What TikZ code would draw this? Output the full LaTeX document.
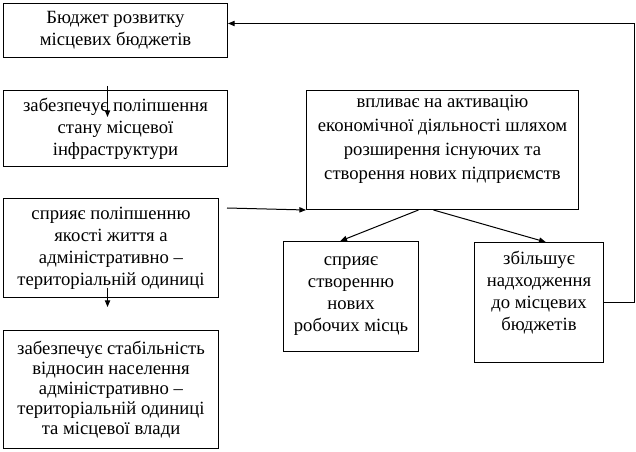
\documentclass[tikz,border=0pt]{standalone}
\usepackage{fontspec}
\setmainfont{Liberation Serif}
\usetikzlibrary{arrows.meta}
\begin{document}
\begin{tikzpicture}[x=0.75pt, y=-0.75pt,
    box/.style={draw, line width=0.75pt, anchor=north west, align=center, inner sep=2pt,
      font=\fontsize{14pt}{16.5pt}\selectfont},
    toptext/.style={align=center, anchor=north, inner sep=0pt,
      font=\fontsize{14pt}{16.5pt}\selectfont},
    arr/.style={line width=0.75pt, -{Triangle[length=5pt,width=4pt]}}]
  \useasboundingbox (0,0) rectangle (636,452);

  % left column
  \node[box, minimum width=168pt, minimum height=40.5pt] (budget) at (3,3)
    {Бюджет розвитку\\місцевих бюджетів};
  \node[box, minimum width=168pt, minimum height=57pt] (infra) at (3,90)
    {забезпечує поліпшення\\стану місцевої\\інфраструктури};
  \node[box, minimum width=161.25pt, minimum height=74.25pt] (life) at (3,198)
    {сприяє поліпшенню\\якості життя а\\адміністративно –\\територіальній одиниці};
  \node[box, minimum width=161.25pt, minimum height=88.5pt,
        font=\fontsize{14pt}{15pt}\selectfont] (stab) at (3,330)
    {забезпечує стабільність\\відносин населення\\адміністративно –\\територіальній одиниці\\та місцевої влади};

  % right part
  \node[box, minimum width=204pt, minimum height=89.25pt,
        label={[toptext, yshift=-4pt, font=\fontsize{14pt}{18pt}\selectfont]north:{впливає на активацію\\економічної діяльності шляхом\\розширення існуючих та\\створення нових підприємств}}] (activ) at (306,90) {};
  \node[box, minimum width=101.25pt, minimum height=82.5pt,
        label={[toptext, yshift=-7pt]north:{\strut сприяє\\створенню\\нових\\робочих місць}}] (jobs) at (283,241) {};
  \node[box, minimum width=96.75pt, minimum height=90pt,
        label={[toptext, yshift=-5pt]north:{\strut збільшує\\надходження\\до місцевих\\бюджетів}}] (revenue) at (474,242) {};

  % connectors
  \draw[arr] ([xshift=-6pt, yshift=-21pt]budget.south) -- ([xshift=-6pt, yshift=-20.25pt]infra.north);
  \draw[arr] ([xshift=-2.6pt, yshift=7.5pt]life.south) -- ([xshift=-2.6pt, yshift=17.25pt]stab.north);
  \draw[arr] ([xshift=6pt, yshift=-7.5pt]life.north east) -- (activ.south west);
  \draw[arr] ([xshift=-18pt]activ.south) -- ([xshift=-8pt]jobs.north);
  \draw[arr] ([xshift=-6.75pt]activ.south) -- ([xshift=5pt]revenue.north);
  \draw[arr] (revenue.east) -- ++(22.5pt,0) |- ([yshift=5.25pt]budget.east);
\end{tikzpicture}
\end{document}
